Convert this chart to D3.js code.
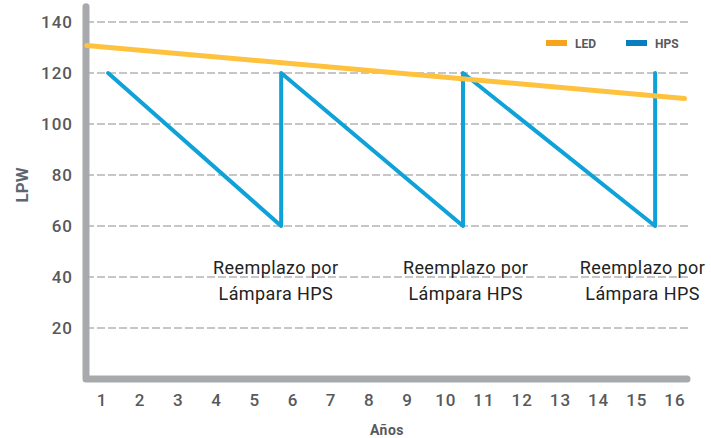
<!DOCTYPE html>
<html>
<head>
<meta charset="utf-8">
<script src="https://cdn.jsdelivr.net/npm/d3@7"></script>
<style>
body { margin: 0; background: #fff; }
.grid line { stroke: #c6c6c6; stroke-width: 2; stroke-dasharray: 8 3; }
.tick-lbl { font-family: Roboto, "DejaVu Sans", sans-serif; font-size: 17px; font-weight: 500; fill: #58595b; letter-spacing: 1px; }
.note { font-family: Roboto, "DejaVu Sans", sans-serif; font-size: 18px; fill: #222; letter-spacing: 0.4px; }
</style>
</head>
<body>
<div id="chart"></div>
<script>
// data
var years = d3.range(1, 17);
var yTicks = [20, 40, 60, 80, 100, 120, 140];
var ledYears = [0.6, 16.25];
var ledLpw = [130.8, 110];
var hpsYears = [1.16, 5.69, 5.69, 10.45, 10.45, 15.48, 15.48];
var hpsLpw = [120, 60, 120, 60, 120, 60, 120];
var noteYears = [5.55, 10.52, 15.15];
var noteLines = ["Reemplazo por", "Lámpara HPS"];
var legendNames = ["LED", "HPS"];
var legendColors = ["#f7a31c", "#0a7dc0"];

var W = 711, H = 438;
var x = d3.scaleLinear().domain([1, 16]).range([102, 675]);
var y = d3.scaleLinear().domain([0, 140]).range([379, 22]);

var svg = d3.select("#chart").append("svg")
	.attr("width", W).attr("height", H);

// grid lines
svg.append("g").attr("class", "grid")
	.selectAll("line").data(yTicks).enter().append("line")
	.attr("x1", 86).attr("x2", 688)
	.attr("y1", function(d) { return y(d); })
	.attr("y2", function(d) { return y(d); });

// axes (thick grey)
svg.append("path")
	.attr("d", "M86," + y(146) + "V" + y(0) + "H" + 687)
	.attr("fill", "none").attr("stroke", "#a8a9ac")
	.attr("stroke-width", 7).attr("stroke-linecap", "round").attr("stroke-linejoin", "round");

// y tick labels
svg.selectAll(".ylbl").data(yTicks).enter().append("text")
	.attr("class", "tick-lbl").attr("text-anchor", "end")
	.attr("x", 73).attr("y", function(d) { return y(d) + 6; })
	.text(function(d) { return d; });

// x tick labels
svg.selectAll(".xlbl").data(years).enter().append("text")
	.attr("class", "tick-lbl").attr("text-anchor", "middle")
	.attr("x", function(d) { return x(d); }).attr("y", 406)
	.text(function(d) { return d; });

// axis titles
svg.append("text").attr("transform", "translate(28,185) rotate(-90)")
	.attr("text-anchor", "middle")
	.style("font-family", "Roboto, sans-serif").style("font-size", "17px").style("font-weight", "bold")
	.style("fill", "#5b6670").text("LPW");
svg.append("text").attr("x", 387).attr("y", 435).attr("text-anchor", "middle")
	.style("font-family", "Roboto, sans-serif").style("font-size", "14px").style("font-weight", "bold")
	.style("letter-spacing", "0.5px")
	.style("fill", "#58595b").text("Años");

var line = d3.line().x(function(d) { return x(d[0]); }).y(function(d) { return y(d[1]); });

// HPS
svg.append("path").datum(d3.zip(hpsYears, hpsLpw))
	.attr("d", line).attr("fill", "none").attr("stroke", "#0ea2d9")
	.attr("stroke-width", 4).attr("stroke-linejoin", "round").attr("stroke-linecap", "round");

// LED
svg.append("path").datum(d3.zip(ledYears, ledLpw))
	.attr("d", line).attr("fill", "none").attr("stroke", "#ffc23e")
	.attr("stroke-width", 5).attr("stroke-linecap", "round");

// notes
noteYears.forEach(function(v) {
	noteLines.forEach(function(t, i) {
		svg.append("text").attr("class", "note").attr("text-anchor", "middle")
			.attr("x", x(v)).attr("y", 274 + i * 26).text(t);
	});
});

// legend
var lg = svg.selectAll(".lg").data(legendNames).enter().append("g")
	.attr("transform", function(d, i) { return "translate(" + (546 + i * 80) + ",43)"; });
lg.append("rect").attr("x", 0).attr("y", -3).attr("width", 21).attr("height", 6)
	.attr("fill", function(d, i) { return legendColors[i]; });
lg.append("text").attr("x", 29).attr("y", 5)
	.style("font-family", "Roboto, sans-serif").style("font-size", "12px").style("font-weight", "bold")
	.style("fill", "#58595b").text(function(d) { return d; });
</script>
</body>
</html>
